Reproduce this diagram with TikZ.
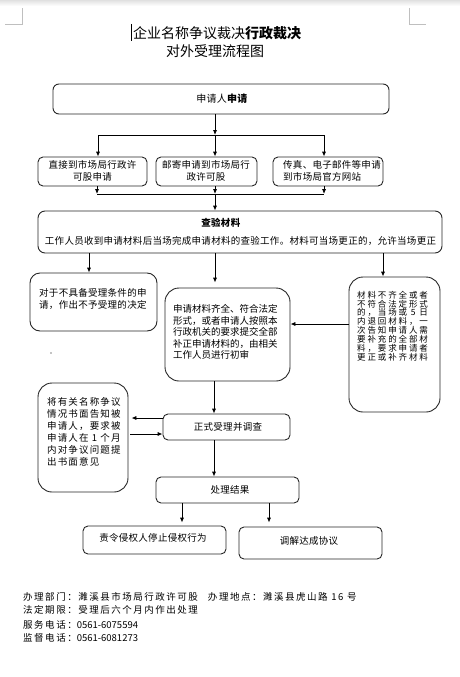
\documentclass[tikz,border=0pt]{standalone}
\usepackage{fontspec}
\usetikzlibrary{arrows.meta}
\newfontfamily\cjk{Noto Sans CJK SC}
\newfontfamily\cjkA[LetterSpace=3]{Noto Sans CJK SC}
\newfontfamily\cjkN[LetterSpace=12]{Noto Sans CJK SC}
\newfontfamily\cjkR[LetterSpace=22]{Noto Sans CJK SC}
\newfontfamily\cjkF[LetterSpace=16]{Noto Sans CJK SC}
\tikzset{
  bx/.style={draw=black!85, line width=0.9pt, rectangle, inner sep=0pt},
  txt/.style={font=\cjkA\fontsize{9.5}{12}\selectfont, inner sep=0pt, align=left},
  arr/.style={line width=0.9pt, -{Latex[length=5pt,width=4.2pt]}},
  ln/.style={line width=0.9pt},
  cornermark/.style={draw=black!25, line width=0.9pt},
  foot/.style={font=\cjkF\fontsize{9.5}{12}\selectfont, inner sep=0pt, anchor=west}
}
\begin{document}
\begin{tikzpicture}[x=1pt,y=-1pt]
\useasboundingbox (0,0) rectangle (460,677);
\shade[top color=black!12, bottom color=white] (0,0) rectangle (460,6);
% page corner marks
\draw[cornermark] (5,24) -- (22,24) -- (22,8);
\draw[cornermark] (409,8) -- (409,24) -- (426,24);
% title
\draw[line width=1.3pt] (131.5,24) -- (131.5,41);
\node[font=\cjk\fontsize{14}{16}\selectfont, anchor=west, inner sep=0pt] (title1) at (133,33) {企业名称争议裁决\textbf{行政裁决}};
\node[font=\cjk\fontsize{14}{16}\selectfont, inner sep=0pt] (title2) at (215,51) {对外受理流程图};
% boxes
\node[bx, rounded corners=6pt, minimum width=336pt, minimum height=30pt] (b1) at (221,99) {};
\node[bx, rounded corners=5pt, minimum width=109pt, minimum height=29pt] (bA) at (92.5,171.5) {};
\node[bx, rounded corners=5pt, minimum width=101pt, minimum height=29pt] (bB) at (206.5,171.5) {};
\node[bx, rounded corners=5pt, minimum width=110pt, minimum height=29pt] (bC) at (328,171.5) {};
\node[bx, rounded corners=7pt, minimum width=404pt, minimum height=42pt] (bCheck) at (240,232) {};
\node[bx, rounded corners=10pt, minimum width=127pt, minimum height=58pt] (bReject) at (93.5,302) {};
\node[bx, rounded corners=14pt, minimum width=125pt, minimum height=93pt] (bMid) at (227.5,334.5) {};
\node[bx, rounded corners=14pt, minimum width=91pt, minimum height=135pt] (bRight) at (394.5,344.5) {};
\node[bx, rounded corners=5pt, minimum width=127pt, minimum height=26pt] (bFormal) at (226.5,427) {};
\node[bx, rounded corners=14pt, minimum width=90pt, minimum height=109pt] (bNotify) at (83,437.5) {};
\node[bx, rounded corners=5pt, minimum width=143pt, minimum height=26pt] (bResult) at (227.5,490) {};
\node[bx, rounded corners=5pt, minimum width=143pt, minimum height=28pt] (bStop) at (154.5,540) {};
\node[bx, rounded corners=5pt, minimum width=143pt, minimum height=32pt] (bMediate) at (310.5,543) {};
% texts
\node[txt, font=\cjkA\fontsize{10}{12}\selectfont] (t1) at (222,99) {申请人\textbf{申请}};
\node[txt, align=center] (tA) at (92.5,171) {直接到市场局行政许\\可股申请};
\node[txt, align=center] (tB) at (206,171) {邮寄申请到市场局行\\政许可股};
\node[txt, anchor=west] (tC) at (283,171) {传真、电子邮件等申请\\到市场局官方网站};
\node[txt] (tCheckH) at (221,223) {\textbf{查验材料}};
\node[txt] (tCheck) at (240.5,241) {工作人员收到申请材料后当场完成申请材料的查验工作。材料可当场更正的，允许当场更正};
\node[txt, anchor=west] (tReject) at (39,299) {对于不具备受理条件的申\\请，作出不予受理的决定};
\node[txt, anchor=west, font=\cjk\fontsize{9.5}{11.5}\selectfont] (tMid) at (173,332) {申请材料齐全、符合法定\\形式，或者申请人按照本\\行政机关的要求提交全部\\补正申请材料的，由相关\\工作人员进行初审};
\node[txt, anchor=west, font=\cjkR\fontsize{8.5}{8.9}\selectfont] (tRight) at (357,326) {材料不齐全或者\\不符合法定形式\\的，当场或 5 日\\内退回材料，一\\次告知申请人需\\要补充的全部材\\料，要求申请者\\更正或补齐材料};
\node[txt] (tFormal) at (228,427) {正式受理并调查};
\node[txt, anchor=west, font=\cjkN\fontsize{9.5}{12}\selectfont] (tNotify) at (47,432) {将有关名称争议\\情况书面告知被\\申请人，要求被\\申请人在 1 个月\\内对争议问题提\\出书面意见};
\node[txt] (tResult) at (230,490) {处理结果};
\node[txt] (tStop) at (153,538) {责令侵权人停止侵权行为};
\node[txt] (tMediate) at (309,541) {调解达成协议};
\fill (51,353) circle (0.6pt);
% junctions
\coordinate (j1) at (215,135);
\coordinate (j1L) at (98,135);
\coordinate (j1R) at (324,135);
\coordinate (j2) at (215,194);
\coordinate (j2L) at (97,194);
\coordinate (j2R) at (324,194);
\coordinate (cL) at (89,262);
\coordinate (cM) at (215,262);
\coordinate (cR) at (383,262);
\coordinate (cF) at (214,400);
\coordinate (h1) at (300,324);
\coordinate (h2) at (140,418);
\coordinate (h3) at (140,434);
\coordinate (vS) at (182,515);
\coordinate (vM) at (269,515);
% connectors
\draw[arr] (b1.south -| j1) -- (j1);
\draw[ln] (j1L) -- (j1R);
\draw[arr] (j1L) -- (bA.north -| j1L);
\draw[arr] (j1) -- (bB.north -| j1);
\draw[arr] (j1R) -- (bC.north -| j1R);
\draw[arr] (bA.south -| j2L) -- (j2L);
\draw[arr] (bB.south -| j2) -- (j2);
\draw[arr] (bC.south -| j2R) -- (j2R);
\draw[ln] (j2L) -- (j2R);
\draw[arr] (j2) -- (bCheck.north -| j2);
\draw[arr] (bCheck.south -| cL) -- (bReject.north -| cL);
\draw[arr] (bCheck.south -| cM) -- ([yshift=5pt]bMid.north -| cM);
\draw[arr] (bCheck.south -| cR) -- (bRight.north -| cR);
\draw[arr] (bRight.west |- h1) -- (bMid.east |- h1);
\draw[arr] (bMid.south -| cF) -- (bFormal.north -| cF);
\draw[arr] (bFormal.west |- h2) -- ([xshift=3pt]bNotify.east |- h2);
\draw[arr] ([xshift=2pt]bNotify.east |- h3) -- (bFormal.west |- h3);
\draw[arr] (bFormal.south -| cF) -- (bResult.north -| cF);
\draw[arr] (bResult.south -| vS) -- ([yshift=3pt]bStop.north -| vS);
\draw[arr] (bResult.south -| vM) -- ([yshift=4pt]bMediate.north -| vM);
% footer
\node[foot] (f1) at (23,597) {办理部门：濉溪县市场局行政许可股\hspace{10pt}办理地点：濉溪县虎山路 16 号};
\node[foot] (f2) at (23,610) {法定期限：受理后六个月内作出处理};
\node[foot] (f3) at (23,625) {服务电话：{\cjk 0561-6075594}};
\node[foot] (f4) at (23,638) {监督电话：{\cjk 0561-6081273}};
\end{tikzpicture}
\end{document}
